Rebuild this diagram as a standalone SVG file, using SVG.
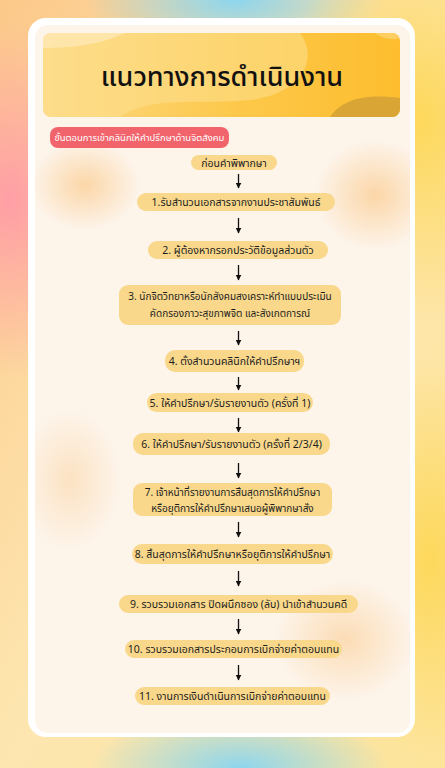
<svg xmlns="http://www.w3.org/2000/svg" width="445" height="768" viewBox="0 0 445 768">
<defs>
<linearGradient id="bgbase" x1="0" y1="0" x2="1" y2="1">
<stop offset="0" stop-color="#fcc98a"/>
<stop offset="0.5" stop-color="#fde6b0"/>
<stop offset="1" stop-color="#fde49a"/>
</linearGradient>
<radialGradient id="pink" cx="0.5" cy="0.5" r="0.5"><stop offset="0" stop-color="#ff9ea6"/><stop offset="1" stop-color="#ff9ea6" stop-opacity="0"/></radialGradient>
<radialGradient id="cyan" cx="0.5" cy="0.5" r="0.5"><stop offset="0" stop-color="#8dd6ee"/><stop offset="1" stop-color="#8dd6ee" stop-opacity="0"/></radialGradient>
<radialGradient id="yel" cx="0.5" cy="0.5" r="0.5"><stop offset="0" stop-color="#fdd85a"/><stop offset="1" stop-color="#fdd85a" stop-opacity="0"/></radialGradient>
<radialGradient id="glow" cx="0.5" cy="0.5" r="0.5"><stop offset="0" stop-color="#fbd3a0" stop-opacity="0.9"/><stop offset="1" stop-color="#fbd3a0" stop-opacity="0"/></radialGradient>
<linearGradient id="hdr" x1="0" y1="0" x2="1" y2="0">
<stop offset="0" stop-color="#fcd985"/>
<stop offset="0.55" stop-color="#fdc84a"/>
<stop offset="1" stop-color="#fdbd2e"/>
</linearGradient>
<clipPath id="hclip"><rect x="43" y="33" width="357" height="84" rx="8"/></clipPath>
<clipPath id="cclip"><rect x="35" y="25" width="375" height="708" rx="13"/></clipPath>
<marker id="ah" viewBox="0 0 10 10" refX="9" refY="5" markerWidth="6" markerHeight="6" orient="auto" markerUnits="userSpaceOnUse">
<path d="M0,0 L10,5 L0,10 Z" fill="#111"/>
</marker>
<style>
.node rect{fill:#f9d88c;}
.node text{font-family:"Noto Sans Thai","Noto Sans","DejaVu Sans",sans-serif;font-size:10.5px;fill:#1e1e1e;text-anchor:middle;}
.node text.s{font-size:10px;}
.conn line{stroke:#111;stroke-width:1.3;}
</style>
</defs>
<!-- background -->
<rect width="445" height="768" fill="url(#bgbase)"/>
<ellipse cx="10" cy="200" rx="110" ry="180" fill="url(#pink)"/>
<ellipse cx="235" cy="0" rx="150" ry="60" fill="url(#cyan)"/>
<ellipse cx="420" cy="120" rx="140" ry="200" fill="url(#yel)"/>
<ellipse cx="430" cy="560" rx="90" ry="200" fill="url(#yel)"/>
<ellipse cx="240" cy="768" rx="150" ry="60" fill="url(#cyan)"/>
<!-- card -->
<rect x="28" y="18" width="387" height="719" rx="18" fill="#ffffff"/>
<rect x="35" y="25" width="375" height="708" rx="13" fill="#fdf4ea"/>
<g clip-path="url(#cclip)">
<ellipse cx="85" cy="185" rx="55" ry="45" fill="url(#glow)"/>
<ellipse cx="375" cy="195" rx="60" ry="55" fill="url(#glow)"/>
<ellipse cx="70" cy="480" rx="50" ry="70" fill="url(#glow)" opacity="0.6"/>
<ellipse cx="345" cy="640" rx="70" ry="60" fill="url(#glow)" opacity="0.8"/>
</g>
<!-- header -->
<g id="header">
<rect x="43" y="33" width="357" height="84" rx="8" fill="url(#hdr)"/>
<g clip-path="url(#hclip)">
<path d="M43,33 L300,33 C320,60 300,95 250,100 C200,105 150,95 120,117 L43,117 Z" fill="#fde08f" opacity="0.55"/>
<path d="M43,33 L125,33 C100,45 70,48 43,48 Z" fill="#fee9b4" opacity="0.8"/>
<path d="M330,117 C345,95 375,95 400,98 L400,117 Z" fill="#d9a635"/>
<path d="M375,33 C385,40 395,40 400,38 L400,33 Z" fill="#fdd370" opacity="0.8"/>
</g>
<text x="222" y="86" font-family="'Noto Sans Thai','Noto Sans','DejaVu Sans',sans-serif" font-size="27" font-weight="500" fill="#111" text-anchor="middle">แนวทางการดำเนินงาน</text>
</g>
<g id="label">
<rect x="50" y="127" width="179" height="21" rx="8" fill="#f2646c"/>
<text x="139.5" y="141" font-family="'Noto Sans Thai','Noto Sans','DejaVu Sans',sans-serif" font-size="9.5" fill="#ffffff" text-anchor="middle">ขั้นตอนการเข้าคลินิกให้คำปรึกษาด้านจิตสังคม</text>
</g>
<!-- connectors -->
<g class="conn" id="connectors">
<line x1="238.5" y1="174" x2="238.5" y2="188" marker-end="url(#ah)"/>
<line x1="238.5" y1="218" x2="238.5" y2="233" marker-end="url(#ah)"/>
<line x1="238.5" y1="265" x2="238.5" y2="280" marker-end="url(#ah)"/>
<line x1="238.5" y1="331" x2="238.5" y2="345" marker-end="url(#ah)"/>
<line x1="238.5" y1="377" x2="238.5" y2="390" marker-end="url(#ah)"/>
<line x1="238.5" y1="418" x2="238.5" y2="432" marker-end="url(#ah)"/>
<line x1="238.5" y1="463" x2="238.5" y2="478" marker-end="url(#ah)"/>
<line x1="238.5" y1="522" x2="238.5" y2="537" marker-end="url(#ah)"/>
<line x1="238.5" y1="571" x2="238.5" y2="586" marker-end="url(#ah)"/>
<line x1="238.5" y1="619" x2="238.5" y2="634" marker-end="url(#ah)"/>
<line x1="238.5" y1="665" x2="238.5" y2="680" marker-end="url(#ah)"/>
</g>
<!-- nodes -->
<g class="node" id="n0"><rect x="191" y="155" width="86" height="15" rx="7.5"/><text x="234" y="166.5">ก่อนคำพิพากษา</text></g>
<g class="node" id="n1"><rect x="137" y="193" width="198" height="18" rx="9"/><text x="236" y="206">1.รับสำนวนเอกสารจากงานประชาสัมพันธ์</text></g>
<g class="node" id="n2"><rect x="148" y="241" width="180" height="18" rx="9"/><text x="238" y="254">2. ผู้ต้องหากรอกประวัติข้อมูลส่วนตัว</text></g>
<g class="node" id="n3"><rect x="119" y="285" width="222" height="40" rx="9"/><text class="s" x="230" y="300">3. นักจิตวิทยาหรือนักสังคมสงเคราะห์ทำแบบประเมิน</text><text class="s" x="230" y="317">คัดกรองภาวะสุขภาพจิต และสังเกตการณ์</text></g>
<g class="node" id="n4"><rect x="165" y="350" width="139" height="22" rx="10"/><text x="234.5" y="365">4. ตั้งสำนวนคลินิกให้คำปรึกษาฯ</text></g>
<g class="node" id="n5"><rect x="147" y="393" width="166" height="19" rx="9.5"/><text x="230" y="406.5">5. ให้คำปรึกษา/รับรายงานตัว (ครั้งที่ 1)</text></g>
<g class="node" id="n6"><rect x="133" y="433" width="197" height="22" rx="10"/><text x="231.5" y="448">6. ให้คำปรึกษา/รับรายงานตัว (ครั้งที่ 2/3/4)</text></g>
<g class="node" id="n7"><rect x="133" y="483" width="199" height="33" rx="9"/><text class="s" x="232.5" y="496">7. เจ้าหน้าที่รายงานการสิ้นสุดการให้คำปรึกษา</text><text class="s" x="232.5" y="512">หรือยุติการให้คำปรึกษาเสนอผู้พิพากษาสั่ง</text></g>
<g class="node" id="n8"><rect x="132" y="544" width="201" height="20" rx="10"/><text x="232.5" y="558">8. สิ้นสุดการให้คำปรึกษาหรือยุติการให้คำปรึกษา</text></g>
<g class="node" id="n9"><rect x="119" y="595" width="239" height="18" rx="9"/><text x="238.5" y="608">9. รวบรวมเอกสาร ปิดผนึกซอง (ลับ) นำเข้าสำนวนคดี</text></g>
<g class="node" id="n10"><rect x="125" y="640" width="217" height="18" rx="9"/><text x="233.5" y="653">10. รวบรวมเอกสารประกอบการเบิกจ่ายค่าตอบแทน</text></g>
<g class="node" id="n11"><rect x="135" y="687" width="195" height="18" rx="9"/><text x="232.5" y="700">11. งานการเงินดำเนินการเบิกจ่ายค่าตอบแทน</text></g>
</svg>
